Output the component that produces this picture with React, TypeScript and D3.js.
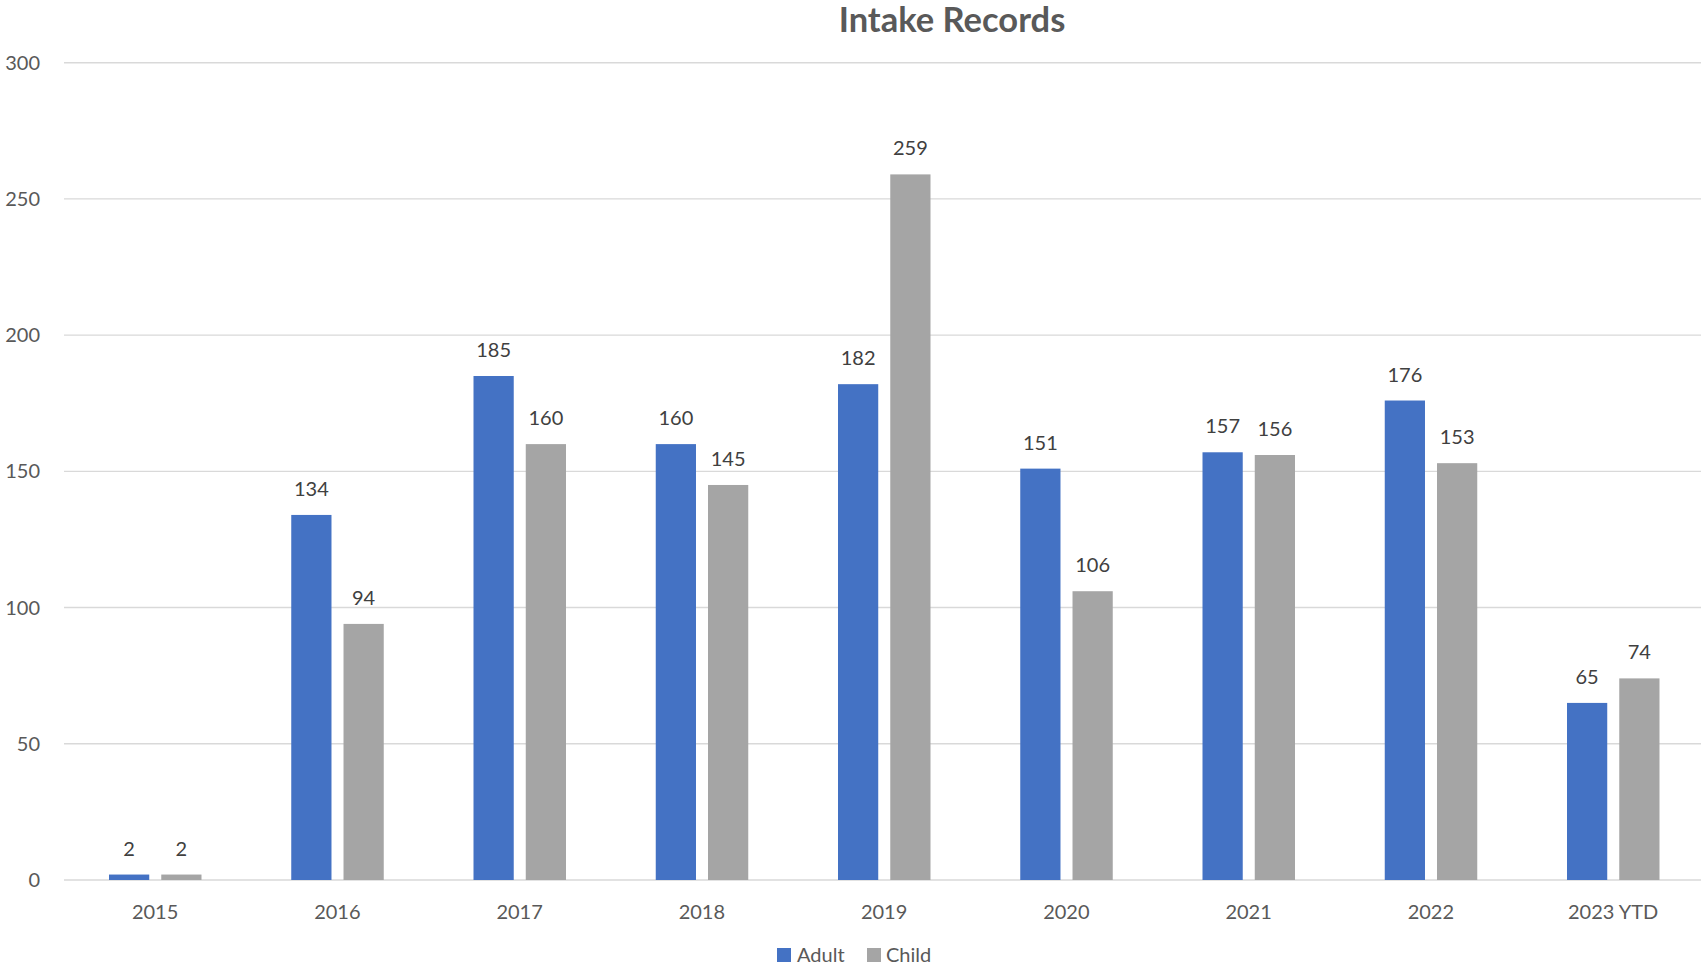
import React from "react";
import * as d3 from "d3";

const categories = ["2015", "2016", "2017", "2018", "2019", "2020", "2021", "2022", "2023 YTD"];
const seriesNames = ["Adult", "Child"];
const adultValues = [2, 134, 185, 160, 182, 151, 157, 176, 65];
const childValues = [2, 94, 160, 145, 259, 106, 156, 153, 74];
const yTicks = [0, 50, 100, 150, 200, 250, 300];
const colors = ["#4472C4", "#A5A5A5"];

const W = 1701;
const H = 968;
const FONT = "Lato, 'Open Sans', sans-serif";

export default function App() {
  const x0 = d3.scaleBand<string>().domain(categories).range([64, 64 + 9 * 182.25]).padding(0);
  const x1 = d3.scaleBand<string>().domain(seriesNames).range([45, 137.5]).paddingInner(0.23).paddingOuter(0);
  const y = d3.scaleLinear().domain([0, 300]).range([880, 62.7]);
  const values = [adultValues, childValues];

  return (
    <svg width={W} height={H} style={{ position: "absolute", left: 0, top: 0 }} fontFamily={FONT}>
      <rect x={0} y={0} width={W} height={H} fill="#fff" />
      <text x={952} y={32} textAnchor="middle" fontSize={34.5} fontWeight="bold" fill="#595959">
        Intake Records
      </text>
      {yTicks.map((t) => (
        <g key={t}>
          <line x1={64} x2={W} y1={y(t)} y2={y(t)} stroke="#D9D9D9" strokeWidth={1.4} />
          <text x={40} y={y(t) + 7} textAnchor="end" fontSize={20} fill="#595959">
            {t}
          </text>
        </g>
      ))}
      {categories.map((c, i) => (
        <g key={c} transform={`translate(${x0(c)},0)`}>
          {seriesNames.map((s, si) => {
            const v = values[si][i];
            const bx = x1(s)!;
            const bw = x1.bandwidth();
            return (
              <g key={s}>
                <rect x={bx} y={y(v)} width={bw} height={y(0) - y(v)} fill={colors[si]} />
                <text x={bx + bw / 2} y={y(v) - 19} textAnchor="middle" fontSize={20} fill="#404040">
                  {v}
                </text>
              </g>
            );
          })}
          <text x={x0.bandwidth() / 2} y={919} textAnchor="middle" fontSize={20} fill="#595959">
            {c}
          </text>
        </g>
      ))}
      <g>
        <rect x={777} y={948} width={14} height={14} fill={colors[0]} />
        <text x={797} y={962} fontSize={20} fill="#595959">Adult</text>
        <rect x={867} y={948} width={14} height={14} fill={colors[1]} />
        <text x={886} y={962} fontSize={20} fill="#595959">Child</text>
      </g>
    </svg>
  );
}
